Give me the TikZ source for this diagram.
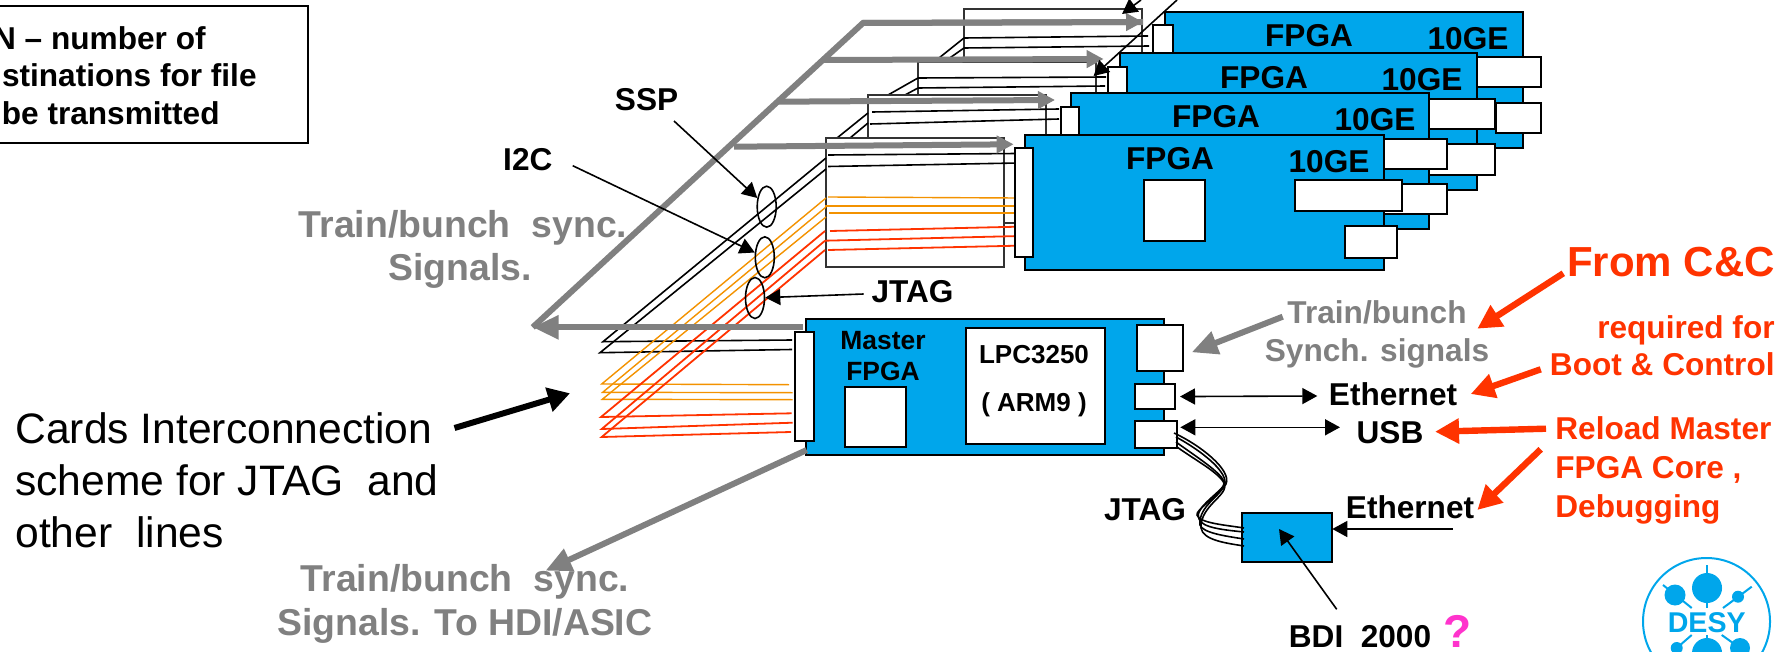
\documentclass[tikz,border=0pt]{standalone}
\usepackage{fontspec}
\setmainfont{Liberation Sans}
\usetikzlibrary{positioning,arrows.meta,fit,shapes.geometric}
\definecolor{cardblue}{HTML}{00A6EB}
\definecolor{sigorange}{HTML}{F39200}
\definecolor{sigred}{HTML}{FF3300}
\definecolor{siggray}{HTML}{808080}
\definecolor{qpink}{HTML}{FF33CC}
\tikzset{
  card/.style={draw,fill=cardblue,line width=1pt,inner sep=0pt,outer sep=0pt},
  port/.style={draw,fill=white,line width=1pt,inner sep=0pt,outer sep=0pt},
  panel/.style={draw=black!80,fill=white,line width=1pt,inner sep=0pt,outer sep=0pt},
  blk/.style={line width=0.8pt},
  org/.style={sigorange,line width=0.7pt},
  rd/.style={sigred,line width=0.9pt},
  wire/.style={line width=0.8pt},
  lbl/.style={font=\fontsize{15.8}{19}\selectfont\bfseries,inner sep=0pt},
  glbl/.style={font=\fontsize{18.7}{22}\selectfont\bfseries,text=siggray,inner sep=0pt},
  rlbl/.style={font=\fontsize{15.8}{19.5}\selectfont\bfseries,text=sigred,inner sep=0pt},
  oval/.style={draw,ellipse,line width=0.8pt,minimum width=9.5pt,minimum height=20.5pt,inner sep=0pt},
  arr/.style={-{Triangle[length=7.5pt,width=8pt]},line width=0.8pt},
  biarr/.style={{Triangle[length=7.5pt,width=8pt]}-{Triangle[length=7.5pt,width=8pt]},line width=0.8pt},
  garr/.style={-{Triangle[length=8.5pt,width=8.5pt]},siggray,line width=3pt},
  bigarr/.style={-{Triangle[length=13pt,width=11.5pt]},siggray,line width=3pt},
  redarr/.style={-{Triangle[length=12pt,width=12pt]},sigred,line width=3.2pt},
  blackarr/.style={-{Triangle[length=11pt,width=12pt]},line width=3pt}
}
\begin{document}
\begin{tikzpicture}[x=0.5pt,y=-0.5pt]
\useasboundingbox (0,0) rectangle (1780,652);

\node[draw,line width=1pt,inner sep=0pt,fit={(-10,6) (308,143)}] (notebox) {};
\node[lbl,anchor=east] (notea) at (206,38) {N -- number of};
\node[lbl,anchor=east] (noteb) at (257,75) {stinations for file};
\node[lbl,anchor=east] (notec) at (220,113) {be transmitted};

\node[panel,fit={(964,9) (1142,137)}] (panelfour) {};
\draw[blk] (964,38) -- (1148,36);
\draw[blk] (964,48) -- (1149,46);
\draw[blk] (934,62) -- (964,38);
\draw[blk] (944,62) -- (964,48);
\node[card,fit={(1165,12) (1523,148)}] (cardfour) {};
\node[port,fit={(1153,25) (1173,53)}] (linkfour) {};
\node[port,fit={(1450,57) (1541,87)}] (gefoura) {};
\node[port,fit={(1496,103) (1541,133)}] (gefourb) {};
\node[lbl] (fpgafour) at (1309,36) {FPGA};
\node[lbl] (gefour) at (1468,39) {10GE};

\node[panel,fit={(918,62) (1096,190)}] (panelthree) {};
\draw[blk] (918,78) -- (1106,77);
\draw[blk] (918,88) -- (1105,86);
\draw[blk] (888,95) -- (918,78);
\draw[blk] (905,95) -- (918,88);
\node[card,fit={(1120,53) (1477,190)}] (cardthree) {};
\node[port,fit={(1108,67) (1127,93)}] (linkthree) {};
\node[port,fit={(1400,99) (1495,129)}] (gethreea) {};
\node[port,fit={(1400,144) (1495,175)}] (gethreeb) {};
\node[lbl] (fpgathree) at (1264,78) {FPGA};
\node[lbl] (gethree) at (1422,80) {10GE};

\node[panel,fit={(868,95) (1046,223)}] (paneltwo) {};
\draw[blk] (872,112) -- (1059,109);
\draw[blk] (870,124) -- (1059,119);
\draw[blk] (837,138) -- (868,113);
\draw[blk] (850,138) -- (868,123);
\node[card,fit={(1071,93) (1429,229)}] (cardtwo) {};
\node[port,fit={(1061,107) (1079,135)}] (linktwo) {};
\node[port,fit={(1350,139) (1447,169)}] (getwoa) {};
\node[port,fit={(1350,184) (1447,214)}] (getwob) {};
\node[lbl] (fpgatwo) at (1216,117) {FPGA};
\node[lbl] (getwo) at (1375,120) {10GE};

\node[panel,fit={(826,138) (1004,267)}] (panelone) {};
\draw[blk] (828,155) -- (1017,153.5);
\draw[blk] (828,166.5) -- (1018,163);
\draw[org] (828,197) -- (1017,198);
\draw[org] (825,206) -- (1019,206);
\draw[org] (829,213) -- (1019,213);
\draw[rd] (830,231) -- (1018,226.7);
\draw[rd] (825,240.7) -- (1020,236);
\draw[rd] (828,250) -- (1017,245.7);
\node[card,fit={(1025,135) (1384,270)}] (cardone) {};
\node[port,fit={(1015,148) (1033,257)}] (linkone) {};
\node[port,fit={(1144,180) (1205,241)}] (chipone) {};
\node[port,fit={(1295,180) (1402,211)}] (geonea) {};
\node[port,fit={(1345,226) (1397,258)}] (geoneb) {};
\node[lbl] (fpgaone) at (1170,159) {FPGA};
\node[lbl] (geone) at (1329,162) {10GE};

\draw[blk] (826,158) -- (603,341.7) -- (792,340);
\draw[blk] (826,169) -- (600,352.7) -- (792,349.5);
\draw[org] (826,198) -- (601.7,384) -- (789,384.7);
\draw[org] (826,207) -- (602.7,392.3) -- (792.7,392.7);
\draw[org] (826,217) -- (602.3,399.3) -- (792.7,399.7);
\draw[rd] (825,231) -- (601,417) -- (791.7,413.3);
\draw[rd] (825,240.7) -- (601.7,429) -- (792.7,422.7);
\draw[rd] (825,250) -- (601.7,437) -- (791,432);

\node[card,fit={(806,318.5) (1164,455)}] (master) {};
\node[port,fit={(795,331.7) (813.7,440.7)}] (masterlink) {};
\node[port,fit={(845,386.7) (905.7,446.7)}] (masterchip) {};
\node[port,fit={(966,328) (1104.7,444)}] (lpc) {};
\node[port,fit={(1136.7,325.3) (1182.7,370.7)}] (syncport) {};
\node[port,fit={(1135,384) (1175,409.3)}] (ethport) {};
\node[port,fit={(1135.3,420.7) (1177.3,448)}] (usbport) {};
\node[lbl,font=\fontsize{13.2}{15.9}\selectfont\bfseries,align=center] (mastertxt) at (883,356) {Master\\FPGA};
\node[lbl,font=\fontsize{13}{24}\selectfont\bfseries,align=center] (lpctxt) at (1034,381) {LPC3250\\( ARM9 )};

\node[card,fit={(1241.7,512.7) (1332.3,562)}] (bdi) {};
\draw[wire] (1174,433) .. controls (1200,445) and (1232,470) .. (1226,484) .. controls (1220,495) and (1195,510) .. (1197,515) .. controls (1199,523) and (1225,525) .. (1244,528);
\draw[wire] (1176,437) .. controls (1200,450) and (1226,470) .. (1225,483) .. controls (1222,492) and (1193,508) .. (1199,519) .. controls (1202,528) and (1225,530) .. (1244,532);
\draw[wire] (1176,442) .. controls (1195,456) and (1224,474) .. (1224,483) .. controls (1224,495) and (1198,505) .. (1200,525) .. controls (1203,533) and (1225,536) .. (1244,539);
\draw[wire] (1177,447) .. controls (1195,460) and (1218,472) .. (1224,483) .. controls (1230,495) and (1200,505) .. (1201,528) .. controls (1203,540) and (1225,543) .. (1244,546);

\coordinate (diagtop) at (863,23);
\coordinate (diagbot) at (532.7,327.3);
\coordinate (gfourend) at (1143,22);
\coordinate (gthreefrom) at (823,60);
\coordinate (gthreeend) at (1103.6,59);
\coordinate (gtwofrom) at (777,101.7);
\coordinate (gtwoend) at (1055,100);
\coordinate (gonefrom) at (734,146.7);
\coordinate (goneend) at (1013.6,144.3);
\coordinate (gmasterfrom) at (802.7,327.3);
\coordinate (gdownfrom) at (806.7,450);
\coordinate (gdownend) at (545.5,570.7);
\coordinate (syncfrom) at (1282.7,316.7);
\coordinate (syncend) at (1191.7,352.3);
\draw[siggray,line width=3pt,line join=miter] (gfourend) -- (diagtop) -- (diagbot);
\draw[garr] (diagtop) -- (gfourend);
\draw[garr] (gthreefrom) -- (gthreeend);
\draw[garr] (gtwofrom) -- (gtwoend);
\draw[garr] (gonefrom) -- (goneend);
\draw[bigarr] (gmasterfrom) -- (diagbot);
\draw[bigarr] (gdownfrom) -- (gdownend);
\draw[bigarr] (syncfrom) -- (syncend);

\node[oval] (sspoval) at (766.7,206.7) {};
\node[oval] (itwocoval) at (764.8,257.3) {};
\node[oval] (jtagoval) at (755,298) {};
\node[lbl] (ssplbl) at (646.6,100) {SSP};
\node[lbl] (itwoclbl) at (527.8,160) {I2C};
\node[lbl] (jtaglbl) at (912.5,292) {JTAG};
\coordinate (sspfrom) at (674,121);
\coordinate (itwocfrom) at (572.7,165.7);
\coordinate (jtagfrom) at (863.6,294);
\draw[arr] (sspfrom) -- (sspoval);
\draw[arr] (itwocfrom) -- (itwocoval);
\draw[arr] (jtagfrom) -- (jtagoval);

\coordinate (topafrom) at (1141,0);
\coordinate (topaend) at (1122,14);
\coordinate (topbfrom) at (1177,0);
\coordinate (topbend) at (1093.6,76);
\draw[arr] (topafrom) -- (topaend);
\draw[arr] (topbfrom) -- (topbend);

\node[glbl] (synctop) at (463,228) {Train/bunch~~sync.};
\node[glbl] (syncsig) at (460,271) {Signals.};
\node[glbl,align=center] (synclow) at (465,604) {Train/bunch~~sync.\\Signals. To HDI/ASIC};
\node[lbl,text=siggray,align=center] (synchlbl) at (1377,334) {Train/bunch\\Synch. signals};

\node[font=\fontsize{21.3}{26}\selectfont,align=left,anchor=west,inner sep=0pt] (cardstxt) at (15,480) {Cards Interconnection\\scheme for JTAG~~and\\other~~lines};
\coordinate (cardsfrom) at (454.5,428);
\coordinate (cardsend) at (570,393.3);
\draw[blackarr] (cardsfrom) -- (cardsend);

\node[lbl] (ethlbl) at (1393,394) {Ethernet};
\node[lbl] (usblbl) at (1390,433) {USB};
\node[lbl] (bdieth) at (1410,507) {Ethernet};
\node[lbl] (jtagcable) at (1145,510) {JTAG};
\node[lbl] (bdilbl) at (1360,637) {BDI~~2000};
\node[lbl,text=qpink,font=\fontsize{23}{26}\selectfont\bfseries,right=6pt of bdilbl,yshift=3pt] (qmark) {?};
\coordinate (ethend) at (1317.3,396);
\coordinate (usbend) at (1340,427.3);
\coordinate (bdifrom) at (1452.7,529);
\coordinate (bdilblfrom) at (1336.7,609.3);
\coordinate (bditip) at (1279,529);
\draw[biarr,shorten <=2.5pt] (ethport) -- (ethend);
\draw[biarr,shorten <=1.5pt] (usbport.east |- usbend) -- (usbend);
\draw[arr] (bdifrom) -- (bdi.east |- bdifrom);
\draw[arr] (bdilblfrom) -- (bditip);

\node[rlbl,font=\fontsize{21}{25}\selectfont\bfseries] (fromcc) at (1671,262) {From C\&C};
\node[rlbl,align=right,anchor=east,font=\fontsize{15.8}{18.7}\selectfont\bfseries] (bootlbl) at (1775,345.5) {required for\\Boot \& Control};
\node[rlbl,align=left,anchor=west] (reloadlbl) at (1555,470) {Reload Master\\FPGA Core ,\\Debugging};
\coordinate (ccfrom) at (1563.3,273.3);
\coordinate (ccend) at (1477.3,328.7);
\coordinate (bootfrom) at (1540.7,369.3);
\coordinate (bootend) at (1470.7,394);
\coordinate (usbfrom) at (1546,428.7);
\coordinate (usbtip) at (1435,431.7);
\coordinate (debugfrom) at (1540.7,449.3);
\coordinate (debugend) at (1477.3,510);
\draw[redarr] (ccfrom) -- (ccend);
\draw[redarr] (bootfrom) -- (bootend);
\draw[redarr] (usbfrom) -- (usbtip);
\draw[redarr] (debugfrom) -- (debugend);

\draw[cardblue,line width=1pt] (1706.5,621.5) circle [radius=63.5];
\fill[cardblue] (1707,588) circle [radius=15];
\fill[cardblue] (1675,595) circle [radius=10.5];
\fill[cardblue] (1738,596.7) circle [radius=6];
\fill[cardblue] (1707,653) circle [radius=15];
\fill[cardblue] (1740,648) circle [radius=10];
\fill[cardblue] (1676.7,648) circle [radius=6];
\draw[cardblue,line width=1pt] (1707,565) -- (1707,608);
\draw[cardblue,line width=1pt] (1663,585) -- (1691.7,608);
\draw[cardblue,line width=1pt] (1723,608) -- (1751.7,586.7);
\draw[cardblue,line width=1pt] (1691.7,635) -- (1676.7,648);
\draw[cardblue,line width=1pt] (1721.7,635) -- (1740,648);
\draw[cardblue,line width=1pt] (1707,635) -- (1707,653);
\node[font=\fontsize{14.3}{16}\selectfont\bfseries,text=cardblue,inner sep=0pt] (desy) at (1706.7,622.7) {DESY};
\end{tikzpicture}
\end{document}
